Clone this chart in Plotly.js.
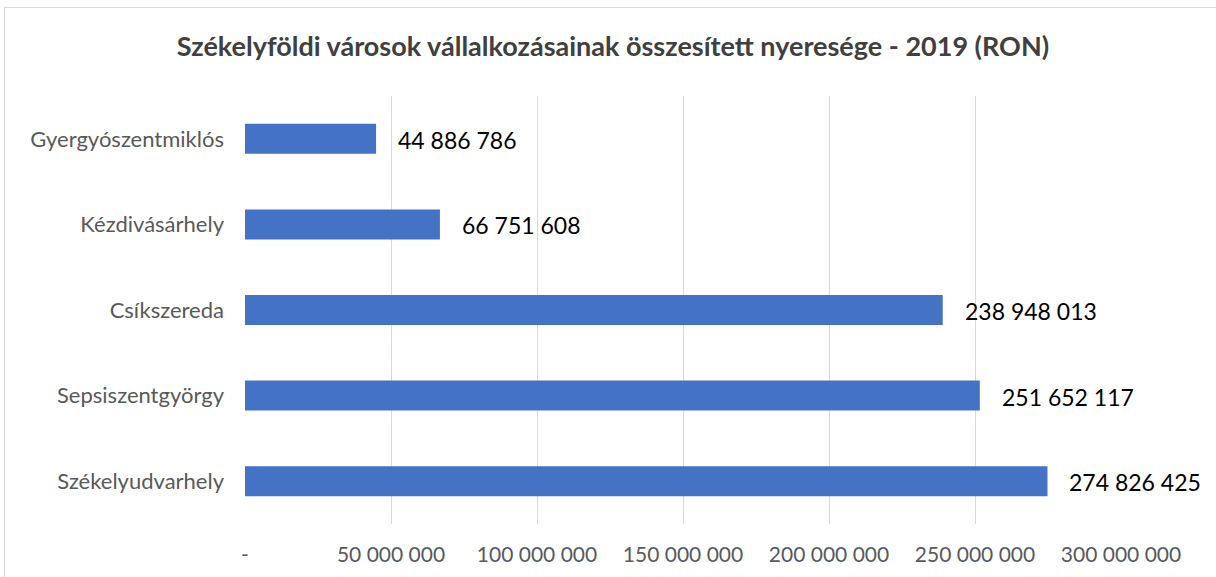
<!DOCTYPE html>
<html>
<head>
<meta charset="utf-8">
<script src="https://cdn.plot.ly/plotly-3.0.1.min.js"></script>
<style>
  html, body { margin: 0; padding: 0; background: #fff; overflow: hidden; }
  #frame { position: absolute; left: 4px; top: 7px; width: 1230px; height: 600px; border: 1px solid #d9d9d9; box-sizing: border-box; pointer-events: none; z-index: 5; }
  #chart { position: absolute; left: 0; top: 0; width: 1216px; height: 577px; }
</style>
</head>
<body>
<div id="chart"></div>
<div id="frame"></div>
<script>
const titleText = "Székelyföldi városok vállalkozásainak összesített nyeresége - 2019 (RON)";
const cities = ["Gyergyószentmiklós", "Kézdivásárhely", "Csíkszereda", "Sepsiszentgyörgy", "Székelyudvarhely"];
const profits = [44886786, 66751608, 238948013, 251652117, 274826425];
const tickValues = [0, 50000000, 100000000, 150000000, 200000000, 250000000, 300000000];
const tickLabels = ["-", "50 000 000", "100 000 000", "150 000 000", "200 000 000", "250 000 000", "300 000 000"];

function fmt(v) {
  return String(v).replace(/\B(?=(\d{3})+(?!\d))/g, " ");
}

const FONT = "Lato, 'Open Sans', sans-serif";

const trace = {
  type: "bar",
  orientation: "h",
  x: profits,
  y: cities,
  marker: { color: "#4472C4" },
  width: 0.35,
  hoverinfo: "none"
};

const annotations = profits.map((v, i) => ({
  x: v,
  y: cities[i],
  xref: "x",
  yref: "y",
  text: fmt(v),
  showarrow: false,
  xanchor: "left",
  yanchor: "middle",
  xshift: 20,
  yshift: -1,
  font: { family: FONT, size: 23, color: "#000000" }
}));

const layout = {
  width: 1216,
  height: 577,
  paper_bgcolor: "#ffffff",
  plot_bgcolor: "#ffffff",
  margin: { l: 245, r: 95, t: 96, b: 53 },
  title: {
    text: "<b>" + titleText + "</b>",
    font: { family: FONT, size: 27, color: "#404040" },
    x: 613 / 1216,
    xref: "container",
    xanchor: "center",
    y: 1 - 47 / 577,
    yref: "container",
    yanchor: "middle"
  },
  xaxis: {
    range: [0, 300000000],
    tickvals: tickValues,
    ticktext: tickLabels,
    showgrid: true,
    gridcolor: "#d9d9d9",
    gridwidth: 1,
    zeroline: false,
    showline: false,
    ticks: "",
    ticklabelstandoff: 16,
    tickfont: { family: FONT, size: 21, color: "#595959" },
    fixedrange: true
  },
  yaxis: {
    type: "category",
    categoryorder: "array",
    categoryarray: cities,
    autorange: "reversed",
    showgrid: false,
    zeroline: false,
    showline: false,
    ticks: "",
    ticklabelstandoff: 20,
    tickfont: { family: FONT, size: 22, color: "#595959" },
    fixedrange: true
  },
  annotations: annotations,
  showlegend: false
};

Plotly.newPlot("chart", [trace], layout, { displayModeBar: false, staticPlot: true });
</script>
</body>
</html>
